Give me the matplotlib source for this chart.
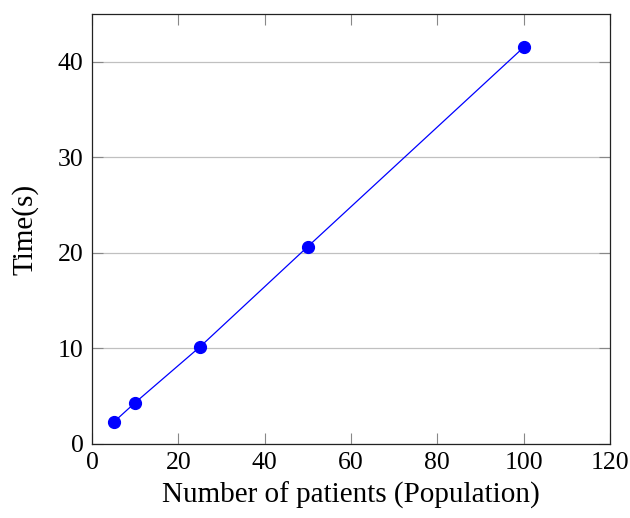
import matplotlib
matplotlib.use("Agg")
import matplotlib.pyplot as plt

# patients in population vs run time
population = [5, 10, 25, 50, 100]
time_s = [2.27, 4.32, 10.15, 20.65, 41.5]
x_ticks = [0, 20, 40, 60, 80, 100, 120]
y_ticks = [0, 10, 20, 30, 40]

plt.rcParams['font.family'] = ['Liberation Serif', 'DejaVu Serif']

fig = plt.figure(figsize=(6.3, 5.18), dpi=100)
ax = fig.add_axes([0.146, 0.143, 0.822, 0.830])

ax.plot(population, time_s, color='blue', linewidth=0.9, marker='o',
        markersize=8.5, markerfacecolor='blue', markeredgecolor='blue', zorder=3)

ax.set_xlim(0, 120)
ax.set_ylim(0, 45)
ax.set_xticks(x_ticks)
ax.set_yticks(y_ticks)
ax.yaxis.grid(True, color='#c0c0c0', linewidth=0.9)
ax.set_axisbelow(True)

ax.tick_params(direction='in', length=8, width=0.8, color='#888888',
               top=True, right=True, labelsize=18.5, pad=6)
for sp in ax.spines.values():
    sp.set_color('#222222')
    sp.set_linewidth(0.9)

ax.set_xlabel('Number of patients (Population)', fontsize=21, labelpad=5)
ax.set_ylabel('Time(s)', fontsize=21, labelpad=14)

fig.savefig('out.png', dpi=100)
